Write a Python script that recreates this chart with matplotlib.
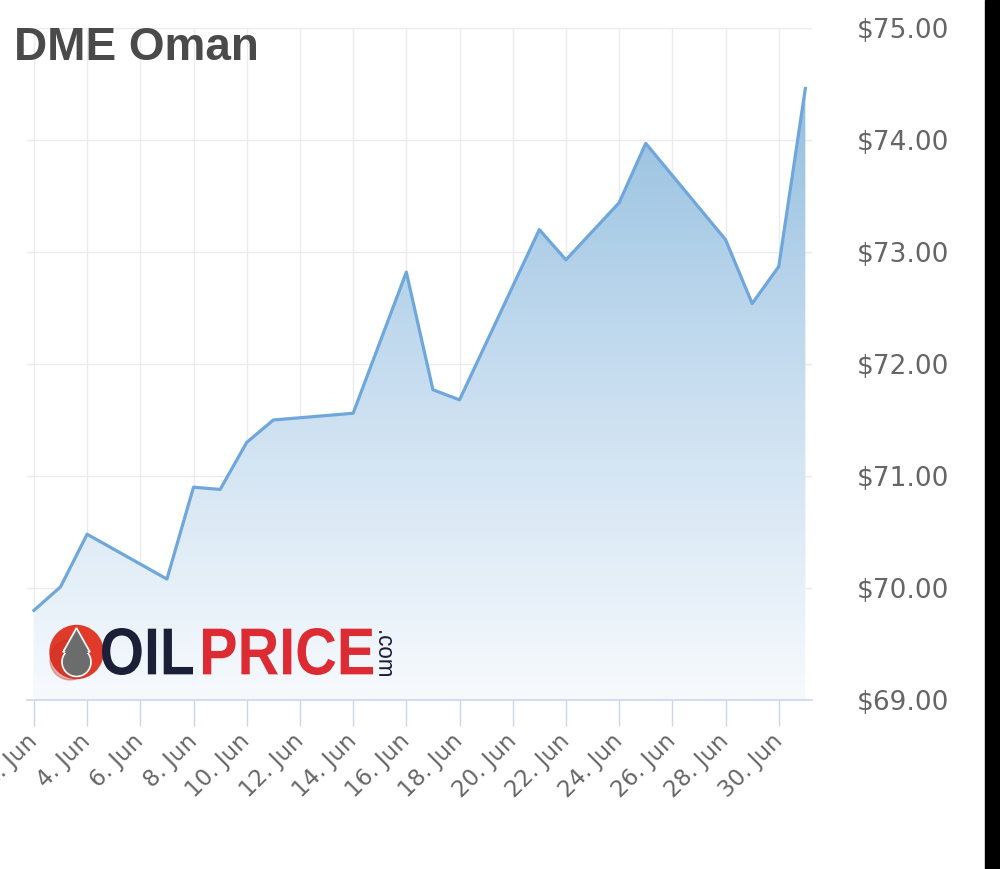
import numpy as np
import matplotlib
matplotlib.use("Agg")
import matplotlib.pyplot as plt
import matplotlib.dates as mdates
from matplotlib.colors import LinearSegmentedColormap
from matplotlib.patches import Circle, Polygon, Rectangle, PathPatch
from matplotlib.textpath import TextPath
from matplotlib.font_manager import FontProperties
from matplotlib.transforms import Affine2D
from matplotlib.ticker import StrMethodFormatter

# DME Oman daily prices, June 2021
dates = ['2021-06-02', '2021-06-03', '2021-06-04', '2021-06-07', '2021-06-08',
         '2021-06-09', '2021-06-10', '2021-06-11', '2021-06-14', '2021-06-16',
         '2021-06-17', '2021-06-18', '2021-06-21', '2021-06-22', '2021-06-24',
         '2021-06-25', '2021-06-28', '2021-06-29', '2021-06-30', '2021-07-01']
prices = [69.80, 70.01, 70.48, 70.08, 70.90,
          70.88, 71.30, 71.50, 71.56, 72.82,
          71.77, 71.68, 73.20, 72.93, 73.44,
          73.97, 73.11, 72.54, 72.87, 74.46]
tick_dates = ['2021-06-%02d' % d for d in range(2, 31, 2)]
y_ticks = [69, 70, 71, 72, 73, 74, 75]

x = mdates.datestr2num(dates)
xt = mdates.datestr2num(tick_dates)

W, H = 1000, 869
fig = plt.figure(figsize=(W / 100, H / 100), dpi=100)
fig.patch.set_facecolor('white')

# plot area in pixels: left 27, right 812, top 28, bottom 700
ax = fig.add_axes([27 / W, 1 - 700 / H, (812 - 27) / W, (700 - 28) / H])
ax.set_xlim(x[0] - 0.26, x[-1] + 0.25)
ax.set_ylim(69, 75)

# gradient area under the line
fill = ax.fill_between(x, prices, 69, color='none', lw=0)
cmap = LinearSegmentedColormap.from_list('g', ['#f7fafd', '#c5dcef', '#8ab9dc'])
grad = np.linspace(0, 1, 256).reshape(-1, 1)
im = ax.imshow(grad, cmap=cmap, origin='lower', aspect='auto',
               extent=[ax.get_xlim()[0], ax.get_xlim()[1], 69, 75], zorder=1)
im.set_clip_path(fill.get_paths()[0], transform=ax.transData)
ax.plot(x, prices, color='#6fa7dc', lw=2.3, zorder=3, solid_joinstyle='round')

# grid and axes
ax.set_xticks(xt)
ax.xaxis.set_major_formatter(mdates.DateFormatter('%-d. %b'))
ax.set_yticks(y_ticks)
ax.yaxis.set_major_formatter(StrMethodFormatter('${x:.2f}'))
ax.grid(True, color='#ebebeb', lw=1, zorder=0)
ax.set_axisbelow(True)
for s in ['top', 'right', 'left']:
    ax.spines[s].set_visible(False)
ax.spines['bottom'].set_color('#ccd6eb')
ax.spines['bottom'].set_linewidth(1.2)
ax.yaxis.tick_right()
ax.tick_params(axis='y', length=0, pad=32, labelsize=19, labelcolor='#666666')
ax.tick_params(axis='x', length=19, width=1, color='#ccd6eb', pad=8,
               labelsize=16.5, labelcolor='#666666')
plt.setp(ax.get_xticklabels(), rotation=45, ha='right', va='center', rotation_mode='anchor')

# title
fig.text(14 / W, 1 - 26 / H, 'DME Oman', ha='left', va='top', fontsize=33,
         weight='bold', family='Liberation Sans', color='#4a4a4a')

# overlay in pixel coordinates for the logo and the black strip at the right edge
ov = fig.add_axes([0, 0, 1, 1], zorder=5)
ov.set_xlim(0, W)
ov.set_ylim(H, 0)
ov.axis('off')
ov.patch.set_alpha(0)


def word(txt, x0, x1, y_base, y_top, color, fp, rot=0):
    p = TextPath((0, 0), txt, size=1, prop=fp)
    b = p.get_extents()
    if rot == 0:
        sx = (x1 - x0) / b.width
        sy = (y_base - y_top) / b.height
        tr = Affine2D().translate(-b.x0, -b.y0).scale(sx, -sy).translate(x0, y_base)
    else:
        # reads top to bottom, letter tops to the right
        sx = (y_base - y_top) / b.width
        sy = (x1 - x0) / b.height
        tr = (Affine2D().translate(-b.x0, -b.y0).scale(sx, -sy)
              .rotate_deg(90).translate(x0, y_top))
    ov.add_patch(PathPatch(tr.transform_path(p), facecolor=color, edgecolor='none'))


fp_logo = FontProperties(family='Liberation Sans', weight='bold')
ov.add_patch(Circle((76.5, 652), 26.5, color='#e03a2a'))
ov.add_patch(Circle((70, 660), 20, color='#c42c22', alpha=0.35))
ov.add_patch(Polygon([(63, 652), (76.5, 628), (90, 652)], closed=True,
                     facecolor='#7a7a7a', edgecolor='white', lw=1.2))
ov.add_patch(Circle((76.5, 662), 14.5, facecolor='#6c6c6c', edgecolor='white', lw=1.2))
ov.add_patch(Polygon([(64.5, 653), (76.5, 631), (88.5, 653)], closed=True,
                     facecolor='#6c6c6c', edgecolor='none'))
word('OIL', 102, 193, 675, 628, '#1b2038', fp_logo)
word('PRICE', 203, 373, 675, 628, '#dd2b34', fp_logo)
word('.com', 379, 392, 676, 631, '#1b2038', FontProperties(family='Liberation Sans'), rot=90)

ov.add_patch(Rectangle((985, 0), 15, H, color='black'))

fig.savefig('out.png', dpi=100)
